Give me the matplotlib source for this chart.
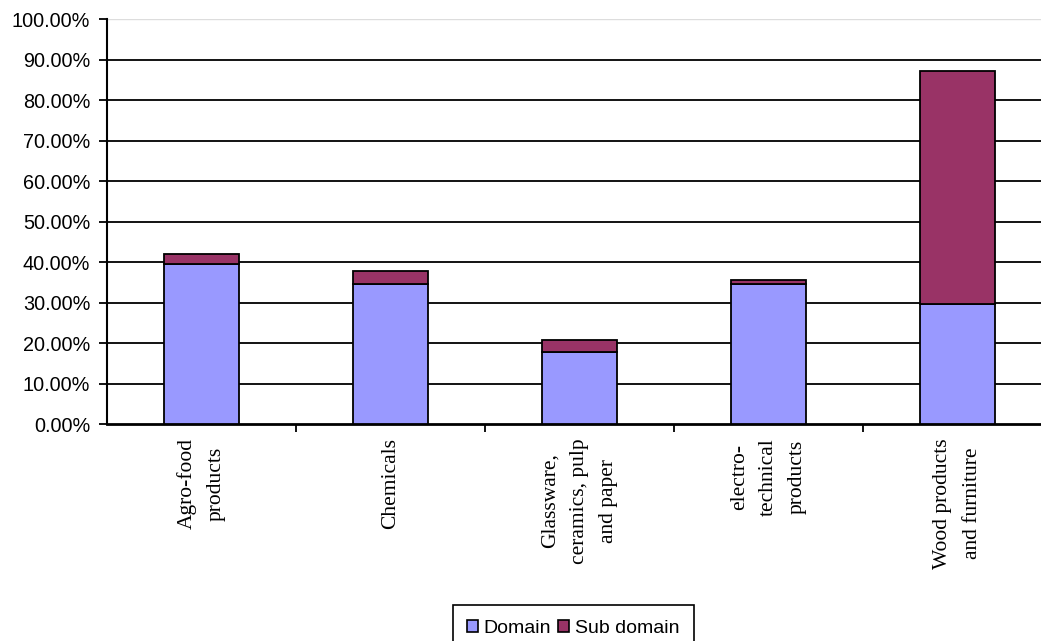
import matplotlib
matplotlib.use("Agg")
import matplotlib.pyplot as plt
from matplotlib.patches import Patch
import numpy as np

categories = [
    "Agro-food\nproducts",
    "Chemicals",
    "Glassware,\nceramics, pulp\nand paper",
    "electro-\ntechnical\nproducts",
    "Wood products\nand furniture",
]
domain = [39.7, 34.6, 17.9, 34.6, 29.6]
sub_domain = [2.3, 3.3, 2.8, 1.0, 57.6]
series_names = ["Domain", "Sub domain"]
yticks = [0, 10, 20, 30, 40, 50, 60, 70, 80, 90, 100]

DOMAIN_COLOR = "#9999FF"
SUB_COLOR = "#993366"

W, H = 1041, 641
fig = plt.figure(figsize=(W / 100, H / 100), dpi=100)
ax = fig.add_axes([107 / W, 1 - 424.3 / H, 945 / W, 405 / H])

x = np.arange(len(categories))
ax.bar(x, domain, width=0.4, color=DOMAIN_COLOR, edgecolor="black", linewidth=1.3, zorder=3)
ax.bar(x, sub_domain, width=0.4, bottom=domain, color=SUB_COLOR, edgecolor="black",
       linewidth=1.3, zorder=3)

ax.set_xlim(-0.5, len(categories) - 0.5)
ax.set_ylim(0, 100)

ax.set_yticks(yticks)
ax.set_yticklabels([f"{v:.2f}%" for v in yticks], family="Liberation Sans", fontsize=14.3)
for v in yticks[1:-1]:
    ax.axhline(v, color="black", linewidth=1.3, zorder=1)
ax.axhline(100, color="#dddddd", linewidth=1.0, zorder=1)

# Category labels centred under each bar, ticks placed between categories
ax.set_xticks(x + 0.5, minor=False)
ax.set_xticklabels([])
ax.tick_params(axis="x", direction="out", length=6, width=1.3, color="black")
ax.tick_params(axis="y", direction="out", length=6, width=1.3, color="black", pad=6)
for xi, lab in zip(x, categories):
    ax.text(xi, -3.4, lab, rotation=90, ha="center", va="top",
            family="Liberation Serif", fontsize=15.5, linespacing=1.72,
            multialignment="center", transform=ax.transData, clip_on=False)

for side in ["top", "right"]:
    ax.spines[side].set_visible(False)
ax.spines["left"].set_linewidth(1.5)
ax.spines["bottom"].set_linewidth(2.0)

handles = [Patch(facecolor=DOMAIN_COLOR, edgecolor="black", linewidth=1.2),
           Patch(facecolor=SUB_COLOR, edgecolor="black", linewidth=1.2)]
leg = fig.legend(handles, series_names, loc="upper left",
                 bbox_to_anchor=(452.7 / W, 1 - 605 / H), ncol=2,
                 frameon=True, fancybox=False, shadow=False, framealpha=1,
                 prop={"family": "Liberation Sans", "size": 14},
                 handlelength=0.55, handleheight=0.55, handletextpad=0.3,
                 columnspacing=0.35, borderpad=0.75, borderaxespad=0)
leg.get_frame().set_edgecolor("black")
leg.get_frame().set_linewidth(1.2)

fig.savefig("out.png", dpi=100)
